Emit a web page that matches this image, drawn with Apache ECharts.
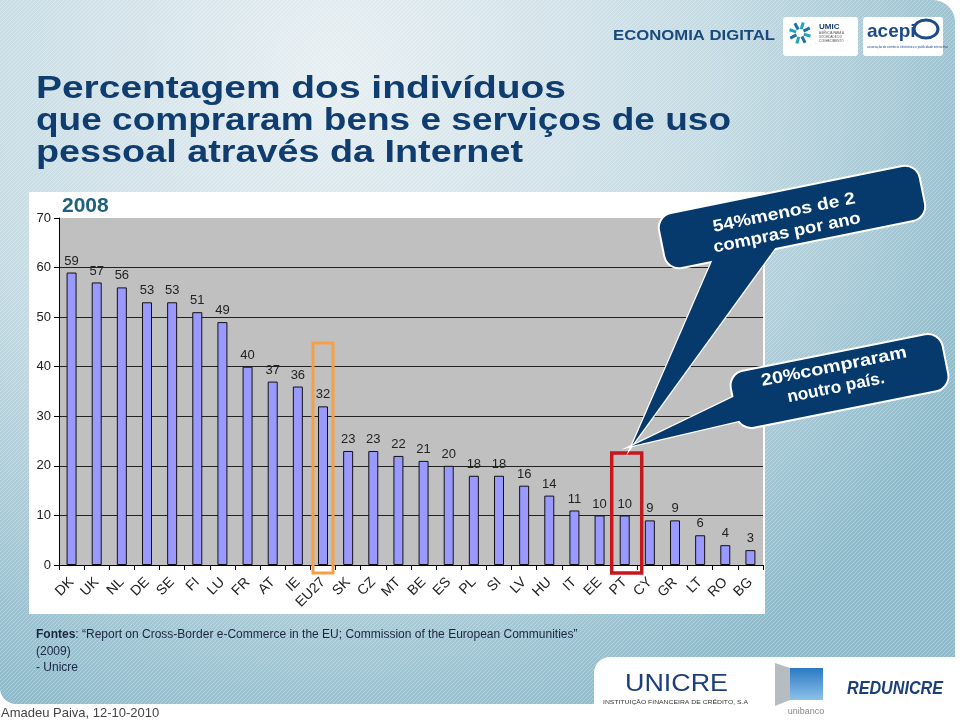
<!DOCTYPE html>
<html>
<head>
<meta charset="utf-8">
<script src="https://cdn.jsdelivr.net/npm/echarts/dist/echarts.min.js"></script>
<style>html,body{margin:0;padding:0;background:#fff}#c{width:960px;height:720px}</style>
</head>
<body>
<div id="c"></div>
<script>
// ---------- data ----------
const categories = ['DK','UK','NL','DE','SE','FI','LU','FR','AT','IE','EU27','SK','CZ','MT','BE','ES','PL','SI','LV','HU','IT','EE','PT','CY','GR','LT','RO','BG'];
const values = [59,57,56,53,53,51,49,40,37,36,32,23,23,22,21,20,18,18,16,14,11,10,10,9,9,6,4,3];
const yTicks = [0,10,20,30,40,50,60,70];
const yearLabel = '2008';
const titleLines = ['Percentagem dos indivíduos','que compraram bens e serviços de uso','pessoal através da Internet'];
const callout1 = ['54%menos de 2','compras por ano'];
const callout2 = ['20%compraram','noutro país.'];
const highlightOrange = 'EU27';
const highlightRed = 'PT';
const sourceLines = ['{b|Fontes}: “Report on Cross-Border e-Commerce in the EU; Commission of the European Communities”','(2009)','- Unicre'];
const authorLine = 'Amadeu Paiva, 12-10-2010';

// ---------- chart ----------
const FF = '"Liberation Sans", Arial, sans-serif';
const chart = echarts.init(document.getElementById('c'), null, {renderer:'canvas'});
const gL = 59, gT = 218, gR = 763, gB = 565;
chart.setOption({
  backgroundColor: '#ffffff',
  animation: false,
  grid: {left: gL, top: gT, width: gR - gL, height: gB - gT, show: true, backgroundColor: '#C0C0C0', borderWidth: 0},
  xAxis: {
    type: 'category', data: categories,
    axisLine: {lineStyle: {color: '#000', width: 1}},
    axisTick: {show: true, alignWithLabel: false, interval: 0, length: 5, lineStyle: {color: '#000'}},
    axisLabel: {interval: 0, rotate: 45, fontSize: 14, color: '#222', fontFamily: FF, margin: 15}
  },
  yAxis: {
    type: 'value', min: yTicks[0], max: yTicks[yTicks.length - 1], interval: yTicks[1] - yTicks[0],
    axisLine: {show: true, lineStyle: {color: '#000', width: 1}},
    axisTick: {show: true, length: 5, lineStyle: {color: '#000'}},
    axisLabel: {fontSize: 13, color: '#222', fontFamily: FF, margin: 8},
    splitLine: {show: true, showMaxLine: false, lineStyle: {color: '#222', width: 1}}
  },
  series: [{
    type: 'bar', data: values, barWidth: 10,
    itemStyle: {color: '#9999FF', borderColor: '#111', borderWidth: 1},
    label: {show: true, position: 'top', distance: 5, fontSize: 13, color: '#222', fontFamily: FF}
  }]
});

// ---------- helpers ----------
const mctx = document.createElement('canvas').getContext('2d');
function fit(text, font, target) { mctx.font = font; return target / mctx.measureText(text).width; }
const px = v => chart.convertToPixel({xAxisIndex: 0}, v);
const py = v => chart.convertToPixel({yAxisIndex: 0}, v);

// stripe pattern
const pc = document.createElement('canvas'); pc.width = 4; pc.height = 4;
const pg = pc.getContext('2d'); pg.strokeStyle = 'rgba(255,255,255,0.28)'; pg.lineWidth = 1;
pg.beginPath(); pg.moveTo(0, 4); pg.lineTo(4, 0); pg.moveTo(-1, 1); pg.lineTo(1, -1); pg.moveTo(3, 5); pg.lineTo(5, 3); pg.stroke();

const NAVY = '#073a6c';
const TITLE = '#103d70';
const g = [];

// background panels
g.push({type: 'rect', shape: {x: 0, y: 0, width: 955, height: 704, r: [0, 22, 0, 16]},
  style: {fill: new echarts.graphic.RadialGradient(0.35, 0.1, 1.0, [{offset: 0, color: '#e8eff2'}, {offset: 0.55, color: '#c5dae2'}, {offset: 1, color: '#90bac9'}])}, z: -20});
g.push({type: 'rect', shape: {x: 0, y: 0, width: 955, height: 704, r: [0, 22, 0, 16]},
  style: {fill: {image: pc, repeat: 'repeat'}}, z: -19});
g.push({type: 'rect', shape: {x: 594, y: 657, width: 366, height: 63, r: [16, 0, 0, 0]}, style: {fill: '#ffffff'}, z: -18});
g.push({type: 'rect', shape: {x: 29, y: 192, width: 736, height: 422}, style: {fill: '#ffffff'}, z: -15});

// title
const tFont = 'bold 31px ' + FF;
const tTargets = [530, 695, 487];
const tY = [89, 121, 153];
titleLines.forEach((t, i) => {
  g.push({type: 'text', x: 36, y: tY[i], scaleX: fit(t, tFont, tTargets[i]),
    style: {text: t, font: tFont, fill: TITLE, textAlign: 'left', textVerticalAlign: 'middle'}, z: 10});
});

// header right
const edFont = 'bold 14px ' + FF;
g.push({type: 'text', x: 613, y: 36, scaleX: fit('ECONOMIA DIGITAL', edFont, 162), style: {text: 'ECONOMIA DIGITAL', font: edFont, fill: '#1a4a7c', textAlign: 'left', textVerticalAlign: 'middle'}, z: 10});
g.push({type: 'rect', shape: {x: 783, y: 17, width: 75, height: 39, r: 3}, style: {fill: '#fff'}, z: 10});
g.push({type: 'rect', shape: {x: 863, y: 17, width: 80, height: 39, r: 3}, style: {fill: '#fff'}, z: 10});
for (let k = 0; k < 8; k++) {
  const a = k * Math.PI / 4 + 0.3;
  g.push({type: 'line', shape: {x1: 800 + 4 * Math.cos(a), y1: 33 + 4 * Math.sin(a), x2: 800 + 11 * Math.cos(a), y2: 33 + 11 * Math.sin(a)},
    style: {stroke: k % 2 ? '#1d6fa5' : '#22a3bd', lineWidth: 3}, z: 11});
}
g.push({type: 'text', x: 819, y: 27, style: {text: 'UMIC', font: 'bold 8px ' + FF, fill: '#1a3d6d', textAlign: 'left', textVerticalAlign: 'middle'}, z: 11});
g.push({type: 'text', x: 819, y: 37, style: {text: 'AGÊNCIA PARA A\nSOCIEDADE DO\nCONHECIMENTO', font: '3px ' + FF, fill: '#555', textAlign: 'left', textVerticalAlign: 'middle', lineHeight: 4}, z: 11});
g.push({type: 'text', x: 867, y: 32, style: {text: 'acepi', font: 'bold 19px ' + FF, fill: '#1b4a8a', textAlign: 'left', textVerticalAlign: 'middle'}, z: 11});
g.push({type: 'ellipse', shape: {cx: 926, cy: 29, rx: 12, ry: 9}, style: {fill: 'none', stroke: '#1b4a8a', lineWidth: 3}, z: 11});
g.push({type: 'text', x: 867, y: 47, style: {text: 'associação do comércio electrónico e publicidade interactiva', font: '3px ' + FF, fill: '#1b4a8a', textAlign: 'left', textVerticalAlign: 'middle'}, z: 11});

// year label
g.push({type: 'text', x: 62, y: 206, style: {text: yearLabel, font: 'bold 21px ' + FF, fill: '#1f5f80', textAlign: 'left', textVerticalAlign: 'middle'}, z: 10});

// highlight boxes
const oCx = px(highlightOrange), rCx = px(highlightRed) + 2;
const oTop = py(44.8), rTop = py(22.6), boxBottom = py(0) + 8;
g.push({type: 'rect', shape: {x: oCx - 10, y: oTop, width: 20, height: boxBottom - oTop}, style: {fill: 'none', stroke: '#f5a048', lineWidth: 3}, z: 50});
g.push({type: 'rect', shape: {x: rCx - 15, y: rTop, width: 30, height: boxBottom - rTop}, style: {fill: 'none', stroke: '#c8161d', lineWidth: 3.5}, z: 50});

// callouts
const tip = [rCx + 5, rTop - 7];
function callout(z, cx, cy, w, h, angDeg, tail, lines, lineCenters, targets) {
  const ang = angDeg * Math.PI / 180;
  g.push({type: 'polygon', shape: {points: [tail[0], tail[1], tip]}, style: {fill: NAVY, stroke: '#fff', lineWidth: 2.5}, z: z});
  g.push({type: 'rect', x: cx, y: cy, rotation: ang, shape: {x: -w / 2, y: -h / 2, width: w, height: h, r: 15}, style: {fill: NAVY, stroke: '#fff', lineWidth: 2}, z: z + 1});
  g.push({type: 'polygon', shape: {points: [tail[0], tail[1], tip]}, style: {fill: NAVY}, z: z + 2});
  const f = 'bold 17px ' + FF;
  lines.forEach((t, i) => {
    g.push({type: 'text', x: lineCenters[i][0], y: lineCenters[i][1], rotation: ang, scaleX: fit(t, f, targets[i]),
      style: {text: t, font: f, fill: '#fff', textAlign: 'center', textVerticalAlign: 'middle'}, z: z + 3});
  });
}
callout(60, 792, 217, 266, 56, 11.5, [[716, 252], [781, 240]], callout1, [[784, 213], [787, 233]], [145, 150]);
callout(70, 839.5, 381, 216, 58, 11.3, [[760, 384], [760, 416]], callout2, [[834, 367], [836, 388]], [148, 99]);

// footer
g.push({type: 'text', x: 36, y: 635, style: {text: sourceLines[0], font: '12px ' + FF, fill: '#1b2543', textAlign: 'left', textVerticalAlign: 'middle', rich: {b: {fontWeight: 'bold', fontSize: 12, fontFamily: FF, fill: '#1b2543'}}}, z: 10});
g.push({type: 'text', x: 36, y: 652, style: {text: sourceLines[1], font: '12px ' + FF, fill: '#1b2543', textAlign: 'left', textVerticalAlign: 'middle'}, z: 10});
g.push({type: 'text', x: 36, y: 668, style: {text: sourceLines[2], font: '12px ' + FF, fill: '#1b2543', textAlign: 'left', textVerticalAlign: 'middle'}, z: 10});
g.push({type: 'text', x: 1, y: 713, style: {text: authorLine, font: '13px ' + FF, fill: '#444', textAlign: 'left', textVerticalAlign: 'middle'}, z: 10});

// bottom logos
g.push({type: 'text', x: 625, y: 684, scaleX: fit('UNICRE', '24px ' + FF, 103), style: {text: 'UNICRE', font: '24px ' + FF, fill: '#1b3f7a', textAlign: 'left', textVerticalAlign: 'middle'}, z: 10});
g.push({type: 'text', x: 603, y: 702, scaleX: fit('INSTITUIÇÃO FINANCEIRA DE CRÉDITO, S.A', '6px ' + FF, 145), style: {text: 'INSTITUIÇÃO FINANCEIRA DE CRÉDITO, S.A', font: '6px ' + FF, fill: '#333', textAlign: 'left', textVerticalAlign: 'middle'}, z: 10});
g.push({type: 'polygon', shape: {points: [[775, 663], [790, 668], [790, 700], [775, 706]]}, style: {fill: '#b7bcc0'}, z: 10});
g.push({type: 'rect', shape: {x: 790, y: 668, width: 33, height: 32}, style: {fill: new echarts.graphic.LinearGradient(0, 0, 0, 1, [{offset: 0, color: '#2b78c4'}, {offset: 1, color: '#8cc2ea'}])}, z: 10});
g.push({type: 'text', x: 806, y: 712, style: {text: 'unibanco', font: '9px ' + FF, fill: '#888', textAlign: 'center', textVerticalAlign: 'middle'}, z: 10});
g.push({type: 'text', x: 847, y: 689, scaleX: fit('REDUNICRE', 'italic bold 19px ' + FF, 96), style: {text: 'REDUNICRE', font: 'italic bold 19px ' + FF, fill: '#1b3f7a', textAlign: 'left', textVerticalAlign: 'middle'}, z: 10});

chart.setOption({graphic: {elements: g}});
</script>
</body>
</html>
